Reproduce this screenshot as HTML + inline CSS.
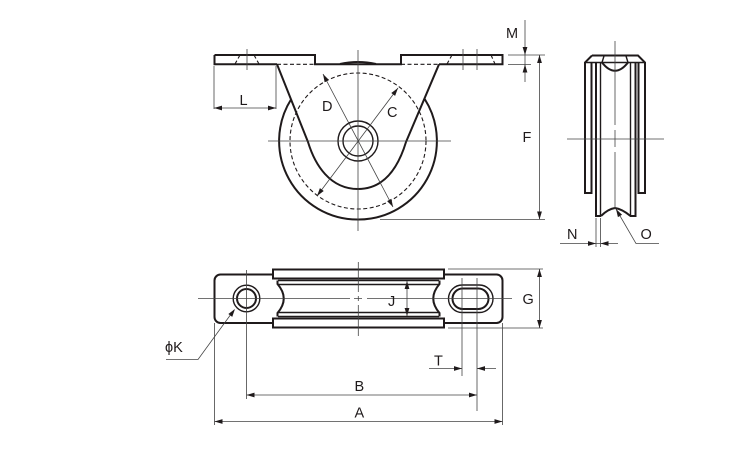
<!DOCTYPE html>
<html><head><meta charset="utf-8"><style>
html,body{margin:0;padding:0;background:#fff}
svg{display:block}
text{font-family:"Liberation Sans",sans-serif;font-size:14.500px;fill:#1f1a1b}
.k{fill:none;stroke:#1f1a1b;stroke-width:2}
.m{fill:none;stroke:#1f1a1b;stroke-width:1.4}
.t{fill:none;stroke:#444;stroke-width:.8}
.d{fill:none;stroke:#1f1a1b;stroke-width:1.1;stroke-dasharray:4 2.5}
.a{fill:#1f1a1b;stroke:none}
</style></head><body>
<svg width="750" height="450" viewBox="0 0 750 450" xmlns="http://www.w3.org/2000/svg">
<defs>
<path id="ar" class="a" d="M0 0L-8 -2.4L-8 2.4Z"/>
</defs>

<!-- FRONT VIEW -->
<path class="k" d="M340 64 Q358 60 376 64"/>
<path class="k" d="M291.300 99 A78.500 78.500 0 0 0 358 219.500 A78.500 78.500 0 0 0 424.700 99"/>
<path class="k" d="M214.500 55 H315 V64.300 H401 V55 H502.500 V64.300 H439"/>
<path class="k" d="M214.500 55 V64.300 H277"/>
<path class="k" d="M277 64.300 L308 142 C315 165 330 189 358 189 C386 189 399 165 406 142 L439 64.300"/>
<path class="d" d="M277 64.300 H315 M401 64.300 H439"/>
<circle class="d" cx="358" cy="141" r="68"/>
<circle class="m" cx="358" cy="141" r="20"/>
<circle class="m" cx="358" cy="141" r="15"/>
<path class="t" d="M268 141 H451 M358 50 V231"/>
<!-- countersinks -->
<path class="d" d="M240 55 L235 64 M254 55 L259 64 M452 55 L447 64 M491 55 L495 64" stroke-dasharray="2.500 1.500"/>
<path class="t" d="M247 49 V70 M463 49 V70 M477 49 V70"/>
<!-- diameter leaders -->
<path class="t" d="M323 74 L393 207 M398 88 L317 196"/>
<use href="#ar" transform="translate(323,74) rotate(-118)"/>
<use href="#ar" transform="translate(393,207) rotate(62)"/>
<use href="#ar" transform="translate(398,88) rotate(-53)"/>
<use href="#ar" transform="translate(317,196) rotate(127)"/>
<text x="322" y="111">D</text>
<text x="387" y="117">C</text>
<!-- L -->
<path class="t" d="M214 66 V109 M276 66 V109 M214 108 H276"/>
<use href="#ar" transform="translate(214,108) rotate(180)"/>
<use href="#ar" transform="translate(276,108)"/>
<text x="239.500" y="105">L</text>
<!-- M -->
<path class="t" d="M525 20 V82 M508 55 H545 M508 64.500 H531 M380 219.500 H545"/>
<use href="#ar" transform="translate(525,55) rotate(90)"/>
<use href="#ar" transform="translate(525,64.500) rotate(-90)"/>
<text x="506" y="38">M</text>
<!-- F -->
<path class="t" d="M539.500 55 V219"/>
<use href="#ar" transform="translate(539.500,55) rotate(-90)"/>
<use href="#ar" transform="translate(539.500,219.500) rotate(90)"/>
<text x="522.500" y="142">F</text>

<!-- SIDE VIEW -->
<path class="k" d="M592 55.500 H638 L645 62.500 V193 H638.500 V62.500 M592 55.500 L585 62.500 V193 H591.500 V62.500"/>
<path class="m" d="M585 62.500 H645"/>
<path class="k" d="M596 62.500 V216 H601 M601 216 Q608 209 615 208 Q622 209 630.500 216 H635.500 V62.500"/>
<path class="m" d="M600.500 62.500 V216 M630.500 62.500 V216"/>
<path class="k" d="M602 62.500 Q615 79 628 62.500"/>
<path class="m" d="M604 56 L602 62.500 M626 56 L628 62.500"/>
<path class="t" d="M567 139 H664 M615 41 V125 M615 130 V147 M615 152 V209"/>
<!-- N -->
<path class="t" d="M596 218 V247 M600.500 218 V247 M560 243.500 H618"/>
<use href="#ar" transform="translate(596,243.500)"/>
<use href="#ar" transform="translate(600.500,243.500) rotate(180)"/>
<text x="567" y="239">N</text>
<!-- O -->
<path class="t" d="M616 209 L636 243.500 H659"/>
<use href="#ar" transform="translate(616,209) rotate(-120)"/>
<text x="640.500" y="239">O</text>

<!-- PLAN VIEW -->
<rect class="k" x="214.500" y="274.500" width="288" height="48.500" rx="6"/>
<rect x="273" y="269" width="171" height="59" fill="#fff"/>
<rect class="k" x="273" y="269.500" width="171" height="9"/>
<rect class="k" x="273" y="318.500" width="171" height="9"/>
<path class="m" d="M278 280.500 H439 M278 316.500 H439 M278 284.500 H439 M278 312.500 H439"/>
<path class="k" d="M277.500 280.500 V284 Q290 298.500 277.500 313 V316.500 M439.500 280.500 V284 Q427 298.500 439.500 313 V316.500"/>
<circle class="m" cx="246.500" cy="298.500" r="13.300"/>
<circle class="k" cx="246.500" cy="298.500" r="9.500"/>
<rect class="m" x="448.500" y="285" width="44.500" height="27.500" rx="13.700"/>
<rect class="k" x="452.500" y="288.500" width="36" height="20.500" rx="10.200"/>
<path class="t" d="M198 298.500 H350 M354 298.500 H362 M367 298.500 H512 M358.300 262 V292 M358.300 296 V301 M358.300 305 V336"/>
<!-- J -->
<path class="t" d="M407 281 V316"/>
<use href="#ar" transform="translate(407,281) rotate(-90)"/>
<use href="#ar" transform="translate(407,316) rotate(90)"/>
<text x="388" y="306">J</text>
<!-- G -->
<path class="t" d="M448 269 H543 M448 328 H543 M539.500 269 V328"/>
<use href="#ar" transform="translate(539.500,269) rotate(-90)"/>
<use href="#ar" transform="translate(539.500,328) rotate(90)"/>
<text x="522.500" y="304">G</text>
<!-- phi K -->
<path class="t" d="M166 359.500 H198 L234 310"/>
<use href="#ar" transform="translate(235,309) rotate(-54)"/>
<text x="165" y="352">ϕK</text>
<!-- T -->
<path class="t" d="M462 278 V376 M477 278 V411 M429 368.500 H462 M477 368.500 H496"/>
<use href="#ar" transform="translate(462,368.500)"/>
<use href="#ar" transform="translate(477,368.500) rotate(180)"/>
<text x="434" y="365.500">T</text>
<!-- B -->
<path class="t" d="M246.500 270 V399 M246.500 395 H477"/>
<use href="#ar" transform="translate(246.500,395) rotate(180)"/>
<use href="#ar" transform="translate(477,395)"/>
<text x="354.500" y="391">B</text>
<!-- A -->
<path class="t" d="M214.500 323 V425 M502.500 323 V425 M214.500 421.500 H502.500"/>
<use href="#ar" transform="translate(214.500,421.500) rotate(180)"/>
<use href="#ar" transform="translate(502.500,421.500)"/>
<text x="354.500" y="417.500">A</text>
</svg>
</body></html>
